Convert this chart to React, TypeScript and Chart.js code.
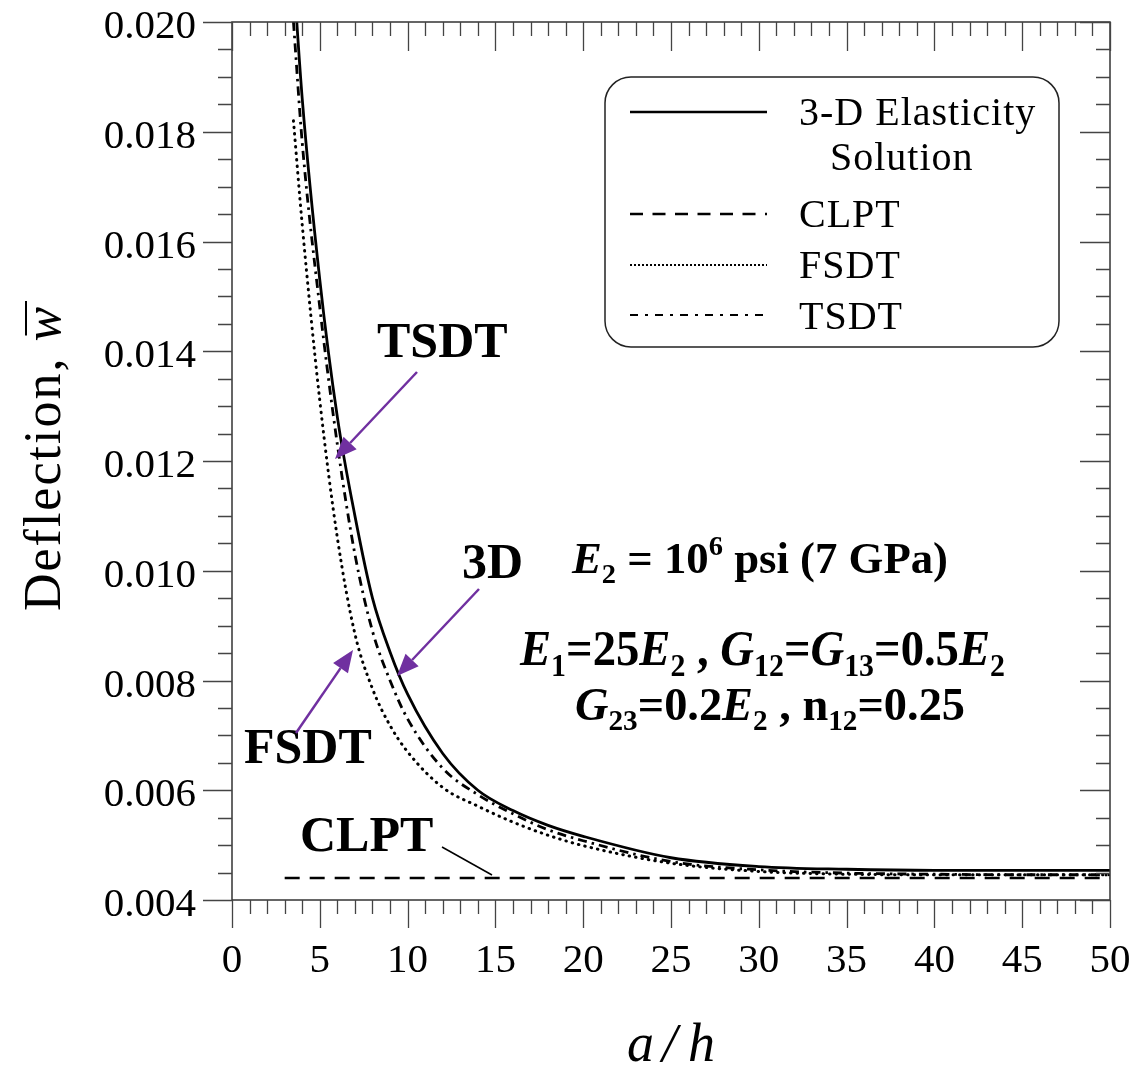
import React, { useEffect, useRef } from 'react';
import { Chart, registerables } from 'chart.js';

Chart.register(...registerables);

// ---- data ----
const aspectRatios = [3.5, 4, 5, 6, 7, 8, 9, 10, 12, 14, 16, 18, 20, 25, 30, 35, 40, 45, 50];
const deflection3D = [0.0209, 0.0186, 0.0153, 0.0128, 0.0110, 0.00950, 0.00852, 0.00775, 0.00667, 0.00600, 0.00563, 0.00536, 0.00516, 0.00477, 0.00461, 0.00456, 0.00454, 0.00454, 0.00454];
const deflectionTSDT = [0.0200, 0.0178, 0.0148, 0.0123, 0.0103, 0.0089, 0.0080, 0.0073, 0.00640, 0.00592, 0.00557, 0.00528, 0.00508, 0.00470, 0.00455, 0.00449, 0.00447, 0.00446, 0.00446];
const deflectionFSDT = [0.0182, 0.0163, 0.0131, 0.0106, 0.00885, 0.00785, 0.00718, 0.00670, 0.00605, 0.00571, 0.00542, 0.00518, 0.00499, 0.00467, 0.00452, 0.00447, 0.00446, 0.00446, 0.00446];
const clptRatios = [3, 50];
const deflectionCLPT = [0.0044, 0.0044];

const xTickValues = [0, 5, 10, 15, 20, 25, 30, 35, 40, 45, 50];
const yTickLabels = ['0.004', '0.006', '0.008', '0.010', '0.012', '0.014', '0.016', '0.018', '0.020'];

const legendLabels = ['3-D Elasticity', 'Solution', 'CLPT', 'FSDT', 'TSDT'];

const SERIF = '"Liberation Serif", "Times New Roman", serif';
const PURPLE = '#7030A0';

const toPoints = (xs: number[], ys: number[]) => xs.map((x, i) => ({ x, y: ys[i] }));

type Run = { t: string; it?: boolean; sub?: boolean; sup?: boolean };

function drawRich(ctx: CanvasRenderingContext2D, runs: Run[], x0: number, x1: number, baseline: number, size: number) {
  const fontFor = (r: Run) => `${r.it ? 'italic ' : ''}bold ${r.sub || r.sup ? Math.round(size * 0.64) : size}px ${SERIF}`;
  let w = 0;
  const widths: number[] = [];
  runs.forEach((r) => {
    ctx.font = fontFor(r);
    const m = ctx.measureText(r.t).width;
    widths.push(m);
    w += m;
  });
  const sx = (x1 - x0) / w;
  ctx.save();
  ctx.translate(x0, baseline);
  ctx.scale(sx, 1);
  ctx.textAlign = 'left';
  ctx.textBaseline = 'alphabetic';
  ctx.fillStyle = '#000';
  let x = 0;
  runs.forEach((r, i) => {
    ctx.font = fontFor(r);
    const dy = r.sub ? size * 0.22 : r.sup ? -size * 0.4 : 0;
    ctx.fillText(r.t, x, dy);
    x += widths[i];
  });
  ctx.restore();
}

function drawArrow(ctx: CanvasRenderingContext2D, x0: number, y0: number, x1: number, y1: number) {
  const ang = Math.atan2(y1 - y0, x1 - x0);
  const hl = 22;
  const hw = 9;
  const bx = x1 - hl * Math.cos(ang);
  const by = y1 - hl * Math.sin(ang);
  ctx.save();
  ctx.strokeStyle = PURPLE;
  ctx.fillStyle = PURPLE;
  ctx.lineWidth = 2.5;
  ctx.beginPath();
  ctx.moveTo(x0, y0);
  ctx.lineTo(bx, by);
  ctx.stroke();
  ctx.beginPath();
  ctx.moveTo(x1, y1);
  ctx.lineTo(bx + hw * Math.sin(ang), by - hw * Math.cos(ang));
  ctx.lineTo(bx - hw * Math.sin(ang), by + hw * Math.cos(ang));
  ctx.closePath();
  ctx.fill();
  ctx.restore();
}

const overlayPlugin = {
  id: 'overlay',
  afterDraw(chart: any) {
    const ctx: CanvasRenderingContext2D = chart.ctx;
    const xs = chart.scales.x;
    const ys = chart.scales.y;
    const { left, right, top, bottom } = chart.chartArea;
    ctx.save();

    // frame
    ctx.strokeStyle = '#333';
    ctx.lineWidth = 1.5;
    ctx.strokeRect(left, top, right - left, bottom - top);

    // x ticks
    ctx.strokeStyle = '#444';
    ctx.lineWidth = 1.3;
    for (let i = 0; i <= 50; i++) {
      const px = Math.round(xs.getPixelForValue(i)) + 0.5;
      const major = i % 5 === 0;
      ctx.beginPath();
      ctx.moveTo(px, bottom);
      ctx.lineTo(px, bottom + (major ? 28 : 14));
      ctx.moveTo(px, top);
      ctx.lineTo(px, top + (major ? 29 : 14));
      ctx.stroke();
    }
    // y ticks
    for (let i = 0; i <= 32; i++) {
      const v = 0.004 + i * 0.0005;
      const py = Math.round(ys.getPixelForValue(v)) + 0.5;
      const major = i % 4 === 0;
      ctx.beginPath();
      ctx.moveTo(left, py);
      ctx.lineTo(left - (major ? 29 : 14), py);
      ctx.moveTo(right, py);
      ctx.lineTo(right - (major ? 30 : 14), py);
      ctx.stroke();
    }

    // tick labels
    ctx.fillStyle = '#000';
    ctx.font = `41px ${SERIF}`;
    ctx.textBaseline = 'alphabetic';
    ctx.textAlign = 'center';
    xTickValues.forEach((v) => {
      ctx.fillText(String(v), xs.getPixelForValue(v), 972);
    });
    ctx.textAlign = 'right';
    yTickLabels.forEach((l) => {
      ctx.fillText(l, 196, ys.getPixelForValue(parseFloat(l)) + 16);
    });

    // legend box
    const bx0 = 605, by0 = 77, bx1 = 1059, by1 = 347, rr = 26;
    ctx.strokeStyle = '#222';
    ctx.lineWidth = 1.5;
    ctx.beginPath();
    ctx.moveTo(bx0 + rr, by0);
    ctx.lineTo(bx1 - rr, by0);
    ctx.arcTo(bx1, by0, bx1, by0 + rr, rr);
    ctx.lineTo(bx1, by1 - rr);
    ctx.arcTo(bx1, by1, bx1 - rr, by1, rr);
    ctx.lineTo(bx0 + rr, by1);
    ctx.arcTo(bx0, by1, bx0, by1 - rr, rr);
    ctx.lineTo(bx0, by0 + rr);
    ctx.arcTo(bx0, by0, bx0 + rr, by0, rr);
    ctx.closePath();
    ctx.fillStyle = '#fff';
    ctx.fill();
    ctx.stroke();

    const legendLine = (y: number, dash: number[], w: number) => {
      ctx.save();
      ctx.strokeStyle = '#000';
      ctx.lineWidth = w;
      ctx.setLineDash(dash);
      ctx.beginPath();
      ctx.moveTo(630, y);
      ctx.lineTo(767, y);
      ctx.stroke();
      ctx.restore();
    };
    legendLine(112, [], 2.5);
    legendLine(214, [13, 9.5], 2.5);
    legendLine(265, [2, 2], 2);
    legendLine(315, [8, 7, 3, 7], 2.2);

    ctx.fillStyle = '#000';
    ctx.font = `40px ${SERIF}`;
    ctx.textAlign = 'left';
    ctx.textBaseline = 'alphabetic';
    (ctx as any).letterSpacing = '1px';
    ctx.fillText(legendLabels[0], 799, 125);
    ctx.fillText(legendLabels[1], 830, 170);
    ctx.fillText(legendLabels[2], 799, 227);
    ctx.fillText(legendLabels[3], 799, 278);
    ctx.fillText(legendLabels[4], 799, 329);
    (ctx as any).letterSpacing = '0px';

    // curve labels
    ctx.font = `bold 50px ${SERIF}`;
    ctx.fillText('TSDT', 377, 357);
    ctx.fillText('3D', 462, 578);
    ctx.fillText('FSDT', 244, 763);
    ctx.fillText('CLPT', 300, 851);

    drawArrow(ctx, 417, 372, 335, 459);
    drawArrow(ctx, 479, 589, 397, 676);
    drawArrow(ctx, 296, 733, 353, 650);

    ctx.strokeStyle = '#000';
    ctx.lineWidth = 1.5;
    ctx.beginPath();
    ctx.moveTo(442, 847);
    ctx.lineTo(492, 875);
    ctx.stroke();

    // material properties
    drawRich(ctx, [
      { t: 'E', it: true }, { t: '2', sub: true }, { t: ' = 10' }, { t: '6', sup: true }, { t: ' psi (7 GPa)' },
    ], 572, 948, 573, 44);
    drawRich(ctx, [
      { t: 'E', it: true }, { t: '1', sub: true }, { t: '=25' }, { t: 'E', it: true }, { t: '2', sub: true },
      { t: ' , ' }, { t: 'G', it: true }, { t: '12', sub: true }, { t: '=' }, { t: 'G', it: true }, { t: '13', sub: true },
      { t: '=0.5' }, { t: 'E', it: true }, { t: '2', sub: true },
    ], 520, 1005, 665, 50);
    drawRich(ctx, [
      { t: 'G', it: true }, { t: '23', sub: true }, { t: '=0.2' }, { t: 'E', it: true }, { t: '2', sub: true },
      { t: ' , n' }, { t: '12', sub: true }, { t: '=0.25' },
    ], 575, 965, 720, 46);

    // axis titles
    ctx.save();
    ctx.translate(60, 458);
    ctx.rotate(-Math.PI / 2);
    ctx.fillStyle = '#000';
    ctx.textBaseline = 'alphabetic';
    ctx.textAlign = 'left';
    (ctx as any).letterSpacing = '2px';
    ctx.font = `52px ${SERIF}`;
    const t1 = 'Deflection, ';
    const w1 = ctx.measureText(t1).width;
    ctx.font = `italic 52px ${SERIF}`;
    const w2 = ctx.measureText('w').width;
    const sx = -(w1 + w2) / 2;
    ctx.font = `52px ${SERIF}`;
    ctx.fillText(t1, sx, 0);
    ctx.font = `italic 52px ${SERIF}`;
    ctx.fillText('w', sx + w1, 0);
    (ctx as any).letterSpacing = '0px';
    ctx.strokeStyle = '#000';
    ctx.lineWidth = 2;
    ctx.beginPath();
    ctx.moveTo(sx + w1 + 6, -34);
    ctx.lineTo(sx + w1 + w2 + 4, -34);
    ctx.stroke();
    ctx.restore();

    ctx.font = `italic 54px ${SERIF}`;
    ctx.textAlign = 'left';
    ctx.fillStyle = '#000';
    ctx.fillText('a', 627, 1061);
    ctx.fillText('/', 662, 1061);
    ctx.fillText('h', 688, 1061);

    ctx.restore();
  },
};

export default function App() {
  const ref = useRef<HTMLCanvasElement | null>(null);

  useEffect(() => {
    document.body.style.margin = '0';
    const canvas = ref.current;
    if (!canvas) return;
    const chart = new Chart(canvas, {
      type: 'line',
      data: {
        datasets: [
          {
            label: '3-D Elasticity Solution',
            data: toPoints(aspectRatios, deflection3D),
            borderColor: '#000',
            borderWidth: 2.8,
            cubicInterpolationMode: 'monotone',
            clip: 0,
          },
          {
            label: 'CLPT',
            data: toPoints(clptRatios, deflectionCLPT),
            borderColor: '#000',
            borderWidth: 2.5,
            borderDash: [15, 10],
            clip: 0,
          },
          {
            label: 'FSDT',
            data: toPoints(aspectRatios, deflectionFSDT),
            borderColor: '#000',
            borderWidth: 3,
            borderDash: [0.5, 6],
            borderCapStyle: 'round',
            cubicInterpolationMode: 'monotone',
            clip: 0,
          },
          {
            label: 'TSDT',
            data: toPoints(aspectRatios, deflectionTSDT),
            borderColor: '#000',
            borderWidth: 2.8,
            borderDash: [9, 5, 2.5, 5],
            cubicInterpolationMode: 'monotone',
            clip: 0,
          },
        ] as any,
      },
      options: {
        animation: false,
        responsive: false,
        devicePixelRatio: 1,
        layout: { padding: { left: 0, top: 22, right: 25, bottom: 0 } },
        elements: { point: { radius: 0 } },
        plugins: { legend: { display: false }, tooltip: { enabled: false } },
        scales: {
          x: {
            type: 'linear',
            min: 0,
            max: 50,
            ticks: { display: false, stepSize: 5 },
            grid: { display: false, drawTicks: false },
            border: { display: false },
            afterFit: (s: any) => {
              s.height = 167;
            },
          },
          y: {
            type: 'linear',
            min: 0.004,
            max: 0.02,
            ticks: { display: false, stepSize: 0.002 },
            grid: { display: false, drawTicks: false },
            border: { display: false },
            afterFit: (s: any) => {
              s.width = 232;
            },
          },
        },
      } as any,
      plugins: [overlayPlugin],
    });
    return () => chart.destroy();
  }, []);

  return (
    <div style={{ position: 'fixed', left: 0, top: 0, width: 1135, height: 1067, background: '#fff' }}>
      <canvas ref={ref} width={1135} height={1067} style={{ display: 'block', width: 1135, height: 1067 }} />
    </div>
  );
}
